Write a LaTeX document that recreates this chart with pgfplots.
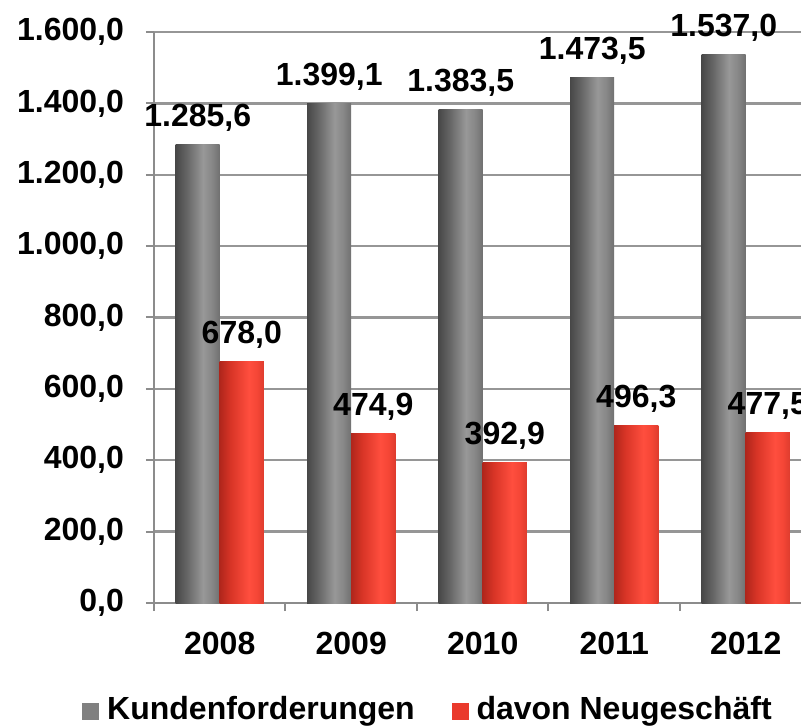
\documentclass[border=0pt]{standalone}
\usepackage{pgfplots}
\pgfplotsset{compat=1.18}
\usepackage{fontspec}
\setmainfont{Liberation Sans}
\definecolor{gridc}{RGB}{150,150,150}
\definecolor{axisc}{RGB}{140,140,140}
\definecolor{lgrey}{RGB}{128,128,128}
\definecolor{lred}{RGB}{234,58,44}
\definecolor{ga}{RGB}{72,72,72}
\definecolor{gb}{RGB}{100,100,100}
\definecolor{gc}{RGB}{152,152,152}
\definecolor{gd}{RGB}{135,135,135}
\definecolor{ge}{RGB}{112,112,112}
\definecolor{ra}{RGB}{176,38,28}
\definecolor{rb}{RGB}{215,52,38}
\definecolor{rc}{RGB}{255,78,62}
\definecolor{rd}{RGB}{245,70,54}
\definecolor{re}{RGB}{222,60,46}
\pgfdeclarehorizontalshading{greybar}{100bp}{color(0bp)=(ga); color(25bp)=(ga); color(37bp)=(gb); color(56bp)=(gc); color(66bp)=(gd); color(75bp)=(ge); color(100bp)=(ge)}
\pgfdeclarehorizontalshading{redbar}{100bp}{color(0bp)=(ra); color(25bp)=(ra); color(37bp)=(rb); color(58bp)=(rc); color(67bp)=(rd); color(75bp)=(re); color(100bp)=(re)}
\pgfplotsset{
  gbar/.style={draw=none, shade, shading=greybar, bar shift=-0.1675},
  rbar/.style={draw=none, shade, shading=redbar, bar shift=0.1675},
}
\begin{document}
\begin{tikzpicture}[font=\fontsize{16}{19}\selectfont\bfseries]
\begin{axis}[name=ax, scale only axis, width=328.75pt, height=285.5pt,
  ybar, bar width=0.335,
  xmin=-0.5, xmax=4.5, ymin=0, ymax=1600,
  clip=false,
  axis lines*=left,
  axis line style={axisc, line width=1pt},
  tick style={axisc, line width=1pt},
  tick align=outside, major tick length=4pt,
  xtick={-0.5,0.5,1.5,2.5,3.5,4.5},
  xticklabels={2008,2009,2010,2011,2012},
  x tick label as interval,
  ytick={0,200,...,1600},
  scaled y ticks=false,
  ymajorgrids, major grid style={gridc, line width=1.2pt},
  /pgf/number format/assume math mode=true,
  yticklabel style={xshift=-7.5pt, /pgf/number format/.cd, fixed, fixed zerofill, precision=1, use comma},
  xticklabel style={yshift=-7pt},
  nodes near coords={\pgfmathprintnumber[fixed,fixed zerofill,precision=1,use comma,assume math mode=true]{\pgfplotspointmeta}},
  every node near coord/.append style={anchor=base, yshift=9pt, black, font=\fontsize{16}{19}\selectfont\bfseries},
  legend columns=2,
  legend style={draw=none, fill=none, inner sep=0pt, nodes={inner sep=0pt, anchor=base west},
    at={([xshift=-36pt,yshift=-59.8pt]axis description cs:0,0)}, anchor=south west,
    /tikz/every odd column/.append style={column sep=4pt},
    /tikz/every even column/.append style={column sep=18.5pt}},
]
\addlegendimage{legend image code/.code={\fill[lgrey] (0pt,0pt) rectangle (8pt,8pt);}}
\addlegendimage{legend image code/.code={\fill[lred] (0pt,0pt) rectangle (8pt,8pt);}}
% Kundenforderungen
\addplot[gbar] coordinates {(0,1285.6)};
\addplot[gbar] coordinates {(1,1399.1)};
\addplot[gbar] coordinates {(2,1383.5)};
\addplot[gbar] coordinates {(3,1473.5)};
\addplot[gbar] coordinates {(4,1537.0)};
% davon Neugeschaeft
\addplot[rbar] coordinates {(0,678.0)};
\addplot[rbar] coordinates {(1,474.9)};
\addplot[rbar] coordinates {(2,392.9)};
\addplot[rbar] coordinates {(3,496.3)};
\addplot[rbar] coordinates {(4,477.5)};
\legend{Kundenforderungen, davon Neugeschäft}
\end{axis}
\pgfresetboundingbox
\path[use as bounding box] ([shift={(-77pt,-62pt)}]ax.south west) rectangle ([shift={(323.5pt,301.5pt)}]ax.south west);
\end{tikzpicture}
\end{document}
